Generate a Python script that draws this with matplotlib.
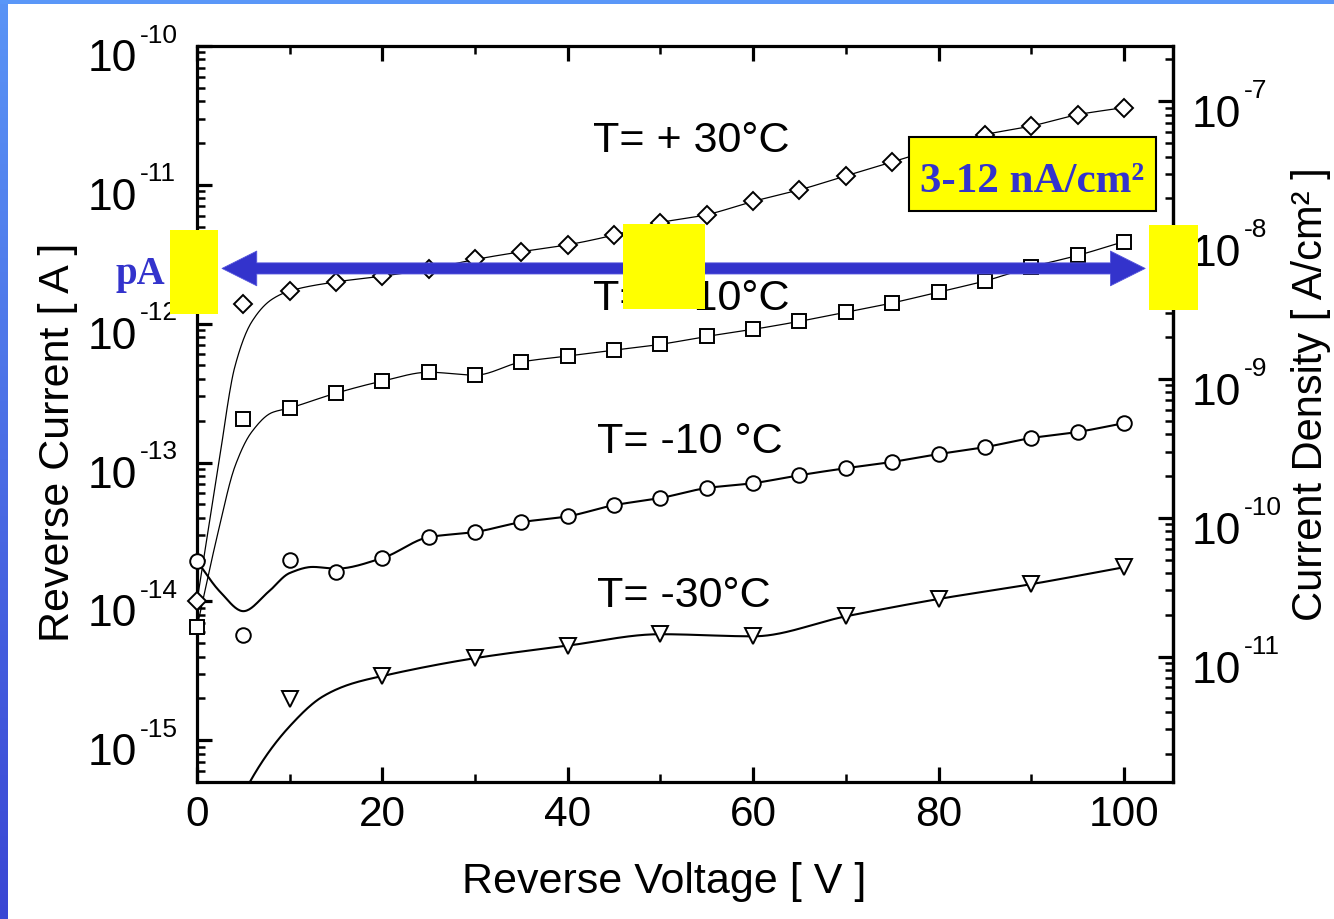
import numpy as np
import matplotlib
matplotlib.use("Agg")
import matplotlib.pyplot as plt
from matplotlib.patches import Rectangle
from matplotlib.colors import LinearSegmentedColormap
from matplotlib.ticker import LogLocator, MultipleLocator, NullFormatter

plt.rcParams['font.family'] = ['Liberation Sans', 'DejaVu Sans']

# ---------------- data ----------------
volt = [0, 5, 10, 15, 20, 25, 30, 35, 40, 45, 50, 55, 60, 65, 70, 75, 80, 85, 90, 95, 100]

i_p30 = [1.0e-14, 1.38e-12, 1.72e-12, 2.0e-12, 2.2e-12, 2.47e-12, 2.9e-12, 3.3e-12, 3.7e-12,
         4.35e-12, 5.35e-12, 6.1e-12, 7.6e-12, 9.2e-12, 1.16e-11, 1.46e-11, 1.85e-11, 2.3e-11,
         2.65e-11, 3.2e-11, 3.6e-11]
i_p10 = [6.5e-15, 2.06e-13, 2.47e-13, 3.16e-13, 3.86e-13, 4.47e-13, 4.26e-13, 5.3e-13, 5.85e-13,
         6.45e-13, 7.1e-13, 8.1e-13, 9.1e-13, 1.04e-12, 1.21e-12, 1.41e-12, 1.69e-12, 2.03e-12,
         2.56e-12, 3.1e-12, 3.9e-12]
i_m10 = [1.95e-14, 5.7e-15, 1.98e-14, 1.62e-14, 2.05e-14, 2.9e-14, 3.16e-14, 3.72e-14, 4.1e-14,
         4.93e-14, 5.55e-14, 6.55e-14, 7.1e-14, 8.1e-14, 9.1e-14, 1.01e-13, 1.15e-13, 1.29e-13,
         1.5e-13, 1.66e-13, 1.92e-13]
volt_m30 = [10, 20, 30, 40, 50, 60, 70, 80, 90, 100]
i_m30 = [1.97e-15, 2.9e-15, 3.9e-15, 4.8e-15, 5.8e-15, 5.6e-15, 7.8e-15, 1.04e-14, 1.33e-14, 1.76e-14]

fit_p30_v = [0, 2.3, 4.1, 5.9, 8.1] + volt[2:]
fit_p30_i = [1.0e-14, 9.4e-14, 4.95e-13, 1.03e-12, 1.5e-12] + i_p30[2:]
fit_p10_v = [0, 2.3, 4.1, 5.9, 8.1] + volt[2:]
fit_p10_i = [6.5e-15, 3.2e-14, 9.4e-14, 1.66e-13, 2.29e-13] + i_p10[2:]
fit_m10_v = [0, 2.5, 5, 7.7, 10, 12.5, 15] + volt[4:]
fit_m10_i = [1.95e-14, 1.17e-14, 8.5e-15, 1.17e-14, 1.6e-14, 1.77e-14, 1.72e-14] + i_m10[4:]
fit_m30_v = [4, 5.7, 10, 13.6, 16.5] + volt_m30[1:]
fit_m30_i = [2.8e-16, 5.0e-16, 1.26e-15, 2.07e-15, 2.53e-15] + i_m30[1:]

temp_labels = ["T= + 30°C", "T= + 10°C", "T= -10 °C", "T= -30°C"]
AREA = 4.0e-4          # cm^2, links current and current density axes
decades_left = [1e-15, 1e-14, 1e-13, 1e-12, 1e-11, 1e-10]
decades_right = [1e-11, 1e-10, 1e-9, 1e-8, 1e-7]

W, H = 1334, 920
BLUE = '#3333CC'


def pchip(x, y, xs):
    x = np.asarray(x, float); y = np.asarray(y, float)
    h = np.diff(x); delta = np.diff(y) / h
    n = len(x)
    d = np.zeros(n)
    for k in range(1, n - 1):
        if delta[k - 1] * delta[k] > 0:
            w1 = 2 * h[k] + h[k - 1]; w2 = h[k] + 2 * h[k - 1]
            d[k] = (w1 + w2) / (w1 / delta[k - 1] + w2 / delta[k])
    d[0] = delta[0]; d[-1] = delta[-1]
    idx = np.clip(np.searchsorted(x, xs) - 1, 0, n - 2)
    t = (xs - x[idx]) / h[idx]
    h00 = 2 * t**3 - 3 * t**2 + 1
    h10 = t**3 - 2 * t**2 + t
    h01 = -2 * t**3 + 3 * t**2
    h11 = t**3 - t**2
    return h00 * y[idx] + h10 * h[idx] * d[idx] + h01 * y[idx + 1] + h11 * h[idx] * d[idx + 1]


fig = plt.figure(figsize=(W / 100, H / 100), dpi=100, facecolor='white')

# slide border
strip = fig.add_axes([0, 0, 8 / W, 1])
grad = np.linspace(0, 1, 256).reshape(-1, 1)
cm = LinearSegmentedColormap.from_list('s', ['#5A94F6', '#3A46D4'])
strip.imshow(grad, aspect='auto', cmap=cm, extent=[0, 1, 0, 1], origin='upper')
strip.axis('off')
fig.add_artist(Rectangle((0, 1 - 5 / H), 1, 5 / H, transform=fig.transFigure,
                         facecolor='#5A97F8', edgecolor='none'))

ax = fig.add_axes([197 / W, 1 - 783 / H, 976 / W, 736 / H])
ax.set_yscale('log')
ax.set_xlim(0, 105.3)
ax.set_ylim(5e-16, 1e-10)

# fit lines
for fv, fi, lw in [(fit_p30_v, fit_p30_i, 0.9), (fit_p10_v, fit_p10_i, 0.9),
                   (fit_m10_v, fit_m10_i, 1.5), (fit_m30_v, fit_m30_i, 1.5)]:
    xs = np.linspace(fv[0], fv[-1], 800)
    ys = 10 ** pchip(fv, np.log10(fi), xs)
    ax.plot(xs, ys, color='black', lw=lw, zorder=3)

mk = dict(ls='none', mfc='white', mec='black', mew=1.4, clip_on=False, zorder=4)
ax.plot(volt, i_p30, marker='D', ms=9.6, **mk)
ax.plot(volt, i_p10, marker='s', ms=10, **mk)
ax.plot(volt, i_m10, marker='o', ms=10.5, **mk)
ax.plot(volt_m30, i_m30, marker='v', ms=11, **mk)

# spines & ticks
for s in ax.spines.values():
    s.set_linewidth(2.3)
ax.xaxis.set_major_locator(MultipleLocator(20))
ax.xaxis.set_minor_locator(MultipleLocator(10))
ax.yaxis.set_major_locator(LogLocator(base=10, numticks=20))
ax.yaxis.set_minor_locator(LogLocator(base=10, subs=np.arange(2, 10), numticks=20))
ax.yaxis.set_major_formatter(NullFormatter())
ax.yaxis.set_minor_formatter(NullFormatter())
ax.tick_params(axis='both', which='major', direction='in', length=11, width=2.3)
ax.tick_params(axis='both', which='minor', direction='in', length=6, width=1.8)
ax.tick_params(axis='x', which='both', top=True, bottom=True)
ax.tick_params(axis='y', which='both', left=True, right=False)
ax.tick_params(axis='x', which='major', labelsize=30.5, pad=9)

ax2 = ax.twinx()
ax2.set_yscale('log')
ax2.set_ylim(5e-16 / AREA, 1e-10 / AREA)
for k in ['left', 'top', 'bottom']:
    ax2.spines[k].set_visible(False)
ax2.spines['right'].set_linewidth(2.3)
ax2.yaxis.set_major_locator(LogLocator(base=10, numticks=20))
ax2.yaxis.set_minor_locator(LogLocator(base=10, subs=np.arange(2, 10), numticks=20))
ax2.yaxis.set_major_formatter(NullFormatter())
ax2.yaxis.set_minor_formatter(NullFormatter())
ax2.tick_params(axis='y', which='major', direction='in', length=11, width=2.3)
ax2.tick_params(axis='y', which='minor', direction='in', length=6, width=1.8)

# power-of-ten tick labels
for dv in decades_left:
    e = int(round(np.log10(dv)))
    ax.annotate('10', xy=(0, dv), xycoords=ax.get_yaxis_transform(), xytext=(-109, -24),
                textcoords='offset pixels', ha='left', va='baseline', fontsize=32, annotation_clip=False)
    ax.annotate(f'-{abs(e)}', xy=(0, dv), xycoords=ax.get_yaxis_transform(), xytext=(-57, 4.5),
                textcoords='offset pixels', ha='left', va='baseline', fontsize=19, annotation_clip=False)
for dv in decades_right:
    e = int(round(np.log10(dv)))
    ax2.annotate('10', xy=(1, dv), xycoords=ax2.get_yaxis_transform(), xytext=(19, -25),
                 textcoords='offset pixels', ha='left', va='baseline', fontsize=32, annotation_clip=False)
    ax2.annotate(f'-{abs(e)}', xy=(1, dv), xycoords=ax2.get_yaxis_transform(), xytext=(71, 4),
                 textcoords='offset pixels', ha='left', va='baseline', fontsize=19, annotation_clip=False)

# axis titles
fig.text(664 / W, 1 - 893 / H, 'Reverse Voltage [ V ]', ha='center', va='baseline', fontsize=31)
fig.text(58 / W, 1 - 442 / H, 'Reverse Current [ A ]', rotation=90, ha='center', va='center', fontsize=31)
fig.text(1311 / W, 1 - 394 / H, 'Current Density [ A/cm² ]', rotation=90, ha='center', va='center', fontsize=30)

# temperature labels
label_pos = [(42.7, 1.75e-11), (42.7, 1.27e-12), (43.15, 1.19e-13), (43.15, 9.2e-15)]
for txt, (xv, yv) in zip(temp_labels, label_pos):
    ax.text(xv, yv, txt, ha='left', va='baseline', fontsize=31, zorder=3)

# blue double arrow
arrow_y = 2.5e-12
for tip in (2.7, 102.3):
    ax.annotate('', xy=(tip, arrow_y), xytext=(52, arrow_y),
                arrowprops=dict(arrowstyle='simple,head_length=25,head_width=25,tail_width=8',
                                mutation_scale=1, fc=BLUE, ec='#5555DD', lw=0.6,
                                shrinkA=0, shrinkB=0), zorder=6)

fig.text(115 / W, 1 - 284 / H, 'pA', ha='left', va='baseline', fontsize=28,
         family='Liberation Serif', weight='bold', color=BLUE)

# yellow boxes
for x0, y0, x1, y1 in [(170, 231, 218, 315), (623, 225, 705, 310), (1149, 226, 1198, 311)]:
    fig.add_artist(Rectangle((x0 / W, 1 - y1 / H), (x1 - x0) / W, (y1 - y0) / H,
                             transform=fig.transFigure, facecolor='#FFFF00', edgecolor='none', zorder=10))
fig.add_artist(Rectangle((909 / W, 1 - 212 / H), 247 / W, 74 / H, transform=fig.transFigure,
                         facecolor='#FFFF00', edgecolor='black', lw=1.5, zorder=10))
fig.text(1032 / W, 1 - 192 / H, '3-12 nA/cm²', ha='center', va='baseline', fontsize=31,
         family='Liberation Serif', weight='bold', color=BLUE, zorder=11)

fig.savefig('out.png', dpi=100, facecolor='white')
